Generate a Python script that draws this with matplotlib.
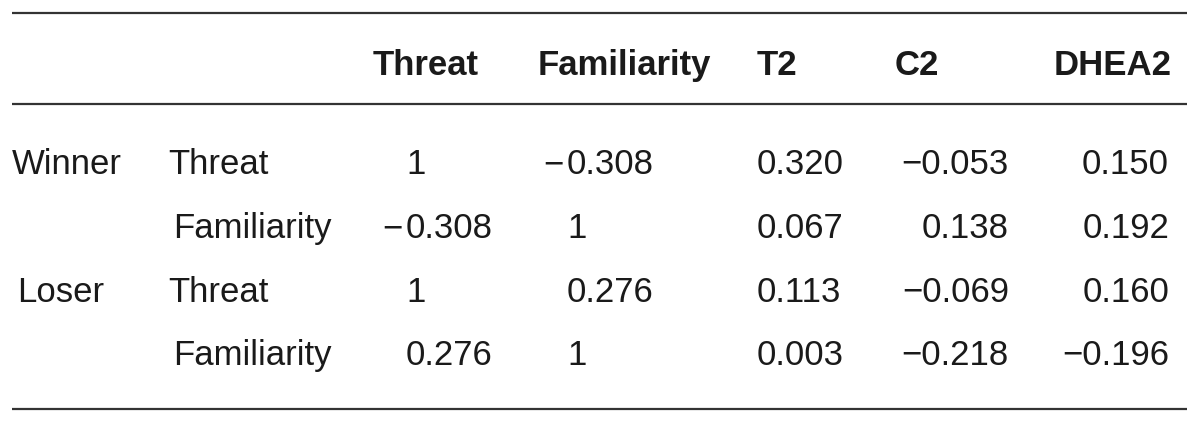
import matplotlib
matplotlib.use('Agg')
import matplotlib.pyplot as plt

plt.rcParams['font.family'] = ['Liberation Sans', 'DejaVu Sans']

# table content
col_headers = ['Threat', 'Familiarity', 'T2', 'C2', 'DHEA2']
groups = ['Winner', '', 'Loser', '']
row_labels = ['Threat', 'Familiarity', 'Threat', 'Familiarity']
threat_vals = ['1', '\u22120.308', '1', '0.276']
famil_vals = ['\u22120.308', '1', '0.276', '1']
t2_vals = ['0.320', '0.067', '0.113', '0.003']
c2_vals = ['\u22120.053', '0.138', '\u22120.069', '\u22120.218']
dhea2_vals = ['0.150', '0.192', '0.160', '\u22120.196']

W, H = 1200, 423
fig = plt.figure(figsize=(W / 100, H / 100), dpi=100)
ax = fig.add_axes([0, 0, 1, 1])
ax.set_xlim(0, W)
ax.set_ylim(H, 0)
ax.axis('off')

fs = 25
txt_color = '#1a1a1a'
line_color = '#333333'

# rules
for y in [13, 104, 409]:
    ax.plot([12, 1187], [y, y], color=line_color, lw=1.6, solid_capstyle='butt')

# header
header_y = 75
header_x = [373, 538, 757, 895, 1172]
header_ha = ['left', 'left', 'left', 'left', 'right']
for lab, x, ha in zip(col_headers, header_x, header_ha):
    ax.text(x, header_y, lab, fontsize=fs, fontweight='bold', ha=ha,
            va='baseline', color=txt_color)

row_y = [174, 238, 302, 365]
group_x = {'Winner': 12, 'Loser': 17}
label_x = {'Threat': 168, 'Familiarity': 173}


def put_hanging(x, y, s):
    # digits left aligned at x, minus sign hangs to the left
    if s.startswith('\u2212'):
        ax.text(x - 3, y, '\u2212', fontsize=fs, ha='right', va='baseline',
                color=txt_color)
        s = s[1:]
    ax.text(x, y, s, fontsize=fs, ha='left', va='baseline', color=txt_color)


for i, y in enumerate(row_y):
    if groups[i]:
        ax.text(group_x[groups[i]], y, groups[i], fontsize=fs, ha='left',
                va='baseline', color=txt_color)
    ax.text(label_x[row_labels[i]], y, row_labels[i], fontsize=fs, ha='left',
            va='baseline', color=txt_color)
    put_hanging(406, y, threat_vals[i])
    put_hanging(567, y, famil_vals[i])
    ax.text(757, y, t2_vals[i], fontsize=fs, ha='left', va='baseline',
            color=txt_color)
    ax.text(1009, y, c2_vals[i], fontsize=fs, ha='right', va='baseline',
            color=txt_color)
    ax.text(1169, y, dhea2_vals[i], fontsize=fs, ha='right', va='baseline',
            color=txt_color)

fig.savefig('out.png', dpi=100, facecolor='white')
